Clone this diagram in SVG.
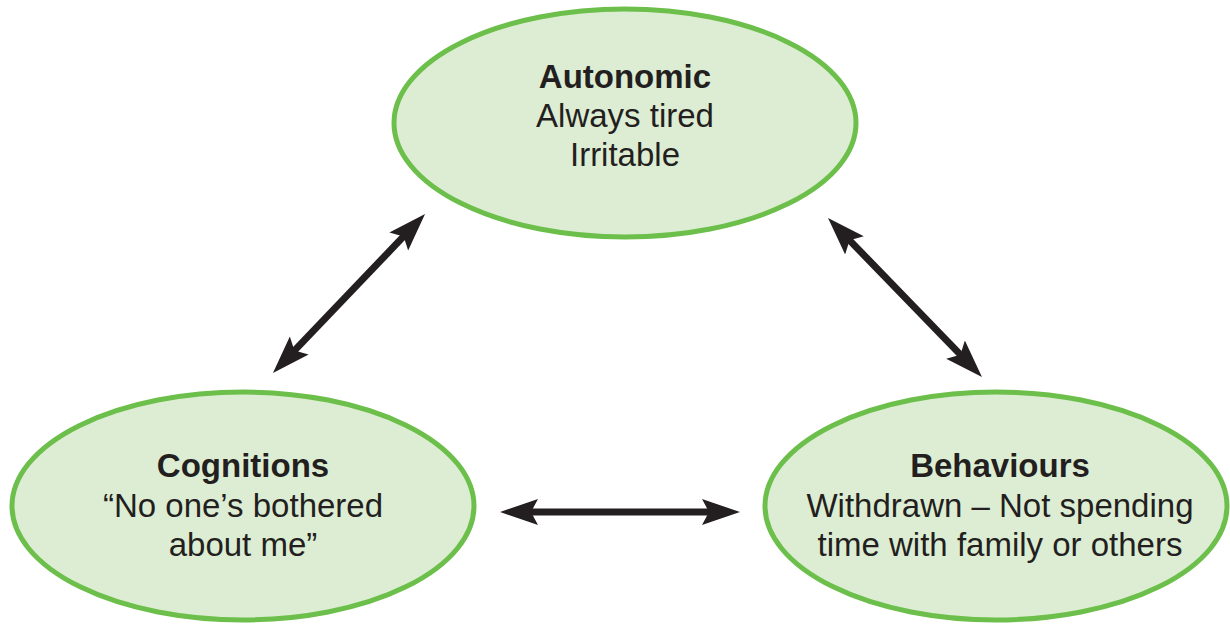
<svg xmlns="http://www.w3.org/2000/svg" width="1230" height="626" viewBox="0 0 1230 626">
<style>
.node{fill:#ddedd3;stroke:#6cbf4a;stroke-width:5}
.t{font-family:"Liberation Sans",Arial,sans-serif;font-size:33px;fill:#231f20;text-anchor:middle}
.b{font-weight:bold}
.c{stroke:#231f20;stroke-width:7;fill:none}
</style>
<defs>
<marker id="ah" viewBox="0 0 40 30" refX="8" refY="15" markerWidth="40" markerHeight="30" markerUnits="userSpaceOnUse" orient="auto-start-reverse">
<path d="M38,15 L0,2 L7,15 L0,28 Z" fill="#231f20"/>
</marker>
</defs>
<rect width="1230" height="626" fill="#fff"/>
<g id="connectors">
<line class="c" x1="293.7" y1="351.3" x2="404.3" y2="235.7" marker-start="url(#ah)" marker-end="url(#ah)"/>
<line class="c" x1="848.9" y1="239.6" x2="961.1" y2="355.4" marker-start="url(#ah)" marker-end="url(#ah)"/>
<line class="c" x1="530" y1="512" x2="710" y2="512" marker-start="url(#ah)" marker-end="url(#ah)"/>
</g>
<g id="autonomic">
<ellipse class="node" cx="625" cy="123" rx="231" ry="114"/>
<text class="t b" x="625" y="88">Autonomic</text>
<text class="t" x="625" y="127">Always tired</text>
<text class="t" x="625" y="166">Irritable</text>
</g>
<g id="cognitions">
<ellipse class="node" cx="243" cy="506" rx="231" ry="114"/>
<text class="t b" x="243" y="477">Cognitions</text>
<text class="t" x="243" y="517">“No one’s bothered</text>
<text class="t" x="243" y="556">about me”</text>
</g>
<g id="behaviours">
<ellipse class="node" cx="996" cy="506" rx="231" ry="114"/>
<text class="t b" x="1000" y="477">Behaviours</text>
<text class="t" x="1000" y="517">Withdrawn – Not spending</text>
<text class="t" x="1000" y="556">time with family or others</text>
</g>
</svg>
